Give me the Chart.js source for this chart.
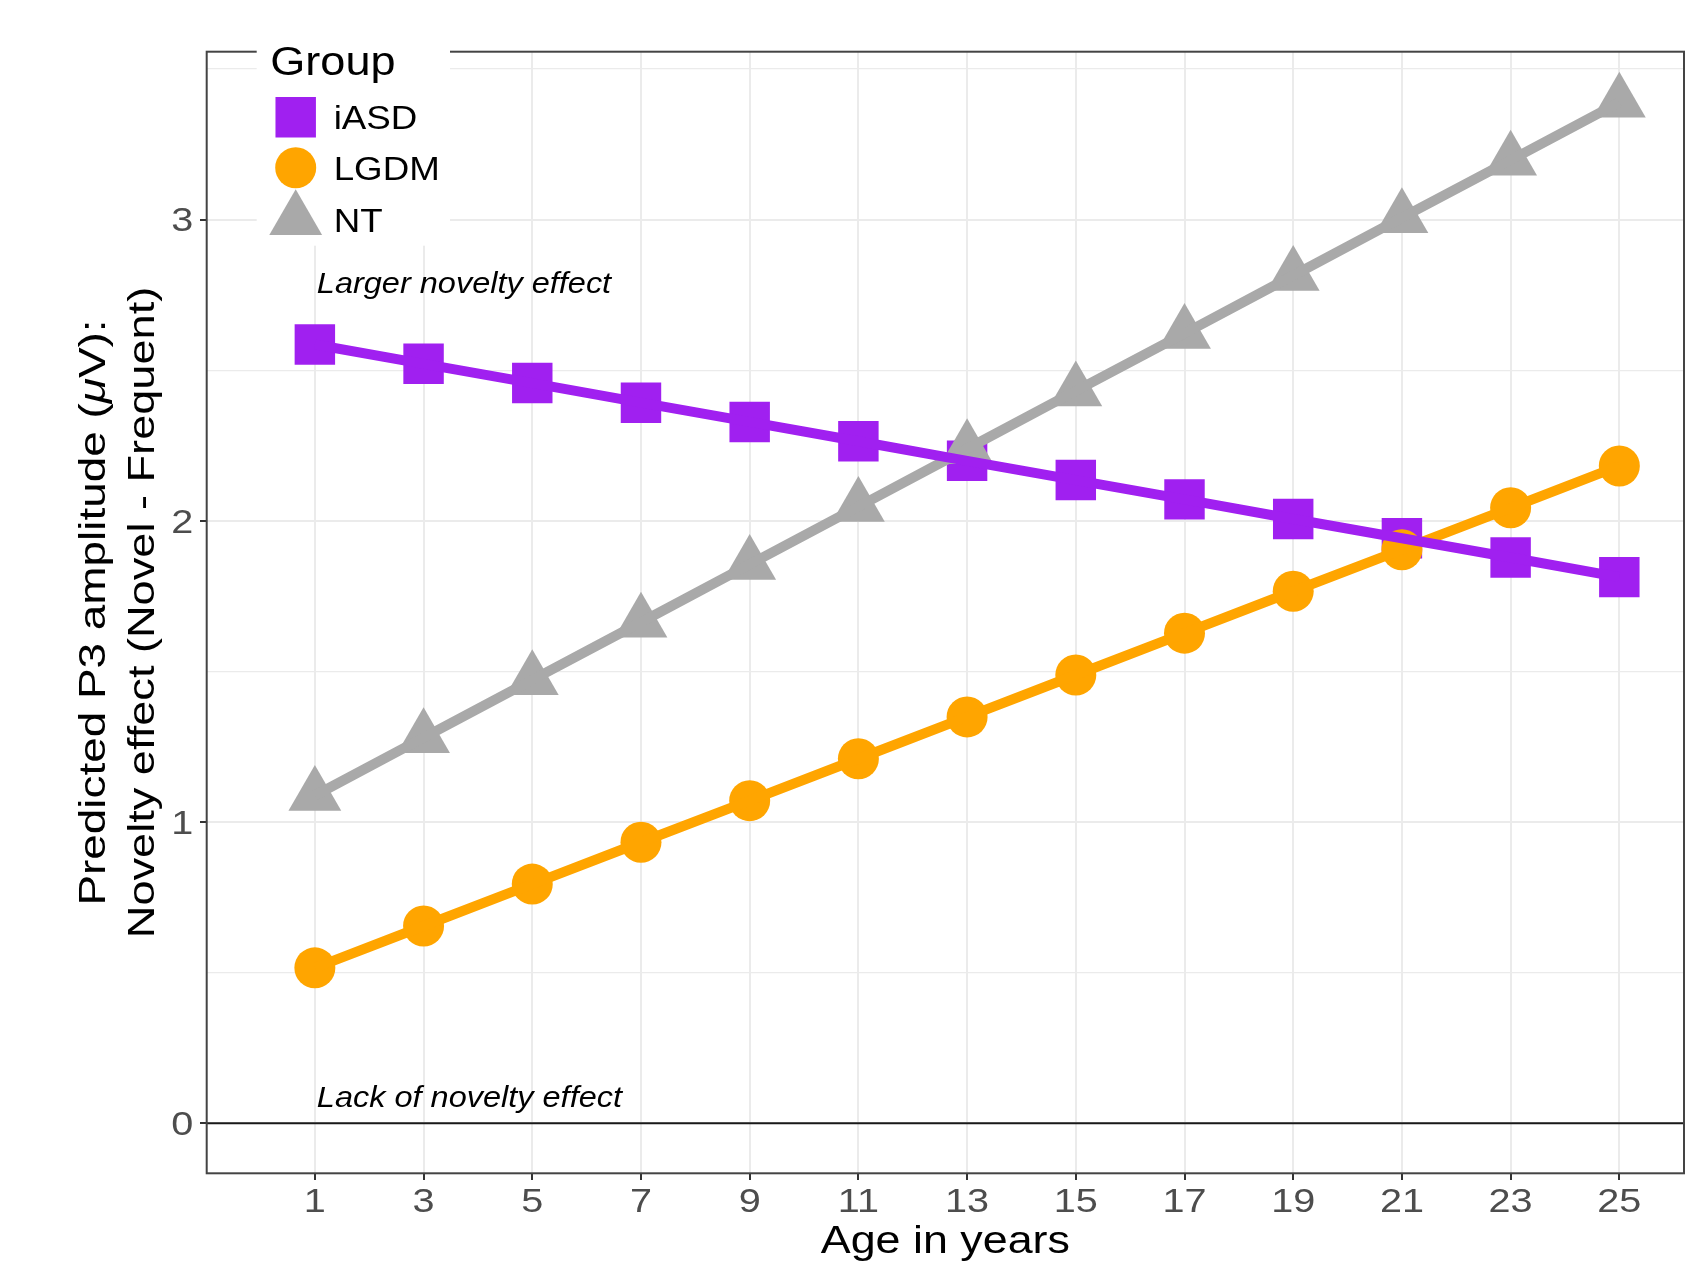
<!DOCTYPE html>
<html><head><meta charset="utf-8">
<script src="https://cdn.jsdelivr.net/npm/chart.js@4.4.1/dist/chart.umd.min.js"></script>
<style>html,body{margin:0;padding:0;background:#fff}canvas{display:block}</style>
</head><body>
<canvas id="c" width="1695" height="1263" style="width:1695px;height:1263px"></canvas>
<script>
// ---- data ----
const ages = [1, 3, 5, 7, 9, 11, 13, 15, 17, 19, 21, 23, 25];
const groups = ['iASD', 'LGDM', 'NT'];
const iASD = [2.585, 2.521, 2.457, 2.392, 2.328, 2.264, 2.199, 2.135, 2.071, 2.006, 1.942, 1.878, 1.813];
const LGDM = [0.516, 0.655, 0.794, 0.933, 1.071, 1.210, 1.349, 1.488, 1.627, 1.766, 1.904, 2.043, 2.182];
const NT   = [1.088, 1.280, 1.472, 1.663, 1.855, 2.047, 2.239, 2.431, 2.622, 2.814, 3.006, 3.197, 3.389];
const xTicks = [1, 3, 5, 7, 9, 11, 13, 15, 17, 19, 21, 23, 25];
const yTicks = [0, 1, 2, 3];
const yMinorTicks = [0.5, 1.5, 2.5, 3.5];
const annotations = ['Larger novelty effect', 'Lack of novelty effect'];
const annotationX = [1, 1];
const annotationY = [2.8, 0.1];
const xTitle = 'Age in years';
const yTitleLine1 = [['Predicted P3 amplitude (', false], ['\u03BC', true], ['V):', false]];
const yTitleLine2 = 'Novelty effect (Novel - Frequent)';
const legendTitle = 'Group';

// ---- styles ----
const FONT = '"Liberation Sans", Arial, Helvetica, sans-serif';
const colors = ['#A020F0', '#FFA500', '#A9A9A9'];
const shapes = ['rect', 'circle', 'triangle'];
const radii = [28.6, 20.5, 30.5];
const seriesValues = [iASD, LGDM, NT];

const pts = v => ages.map((a, i) => ({x: a, y: v[i]}));

const datasets = [];
groups.forEach((g, i) => {
  datasets.push({
    label: g + ' line', data: pts(seriesValues[i]),
    borderColor: colors[i], borderWidth: 10, pointRadius: 0, pointHoverRadius: 0,
    fill: false, tension: 0, order: 1 + i, borderJoinStyle: 'round'
  });
});
groups.forEach((g, i) => {
  datasets.push({
    label: g, data: pts(seriesValues[i]), showLine: false,
    pointStyle: shapes[i], pointRadius: radii[i], pointHoverRadius: radii[i],
    pointBackgroundColor: colors[i], pointBorderWidth: 0, pointBorderColor: colors[i],
    order: 12 - i
  });
});

function drawShape(ctx, shape, r, x, y, color) {
  ctx.save();
  ctx.fillStyle = color;
  ctx.beginPath();
  if (shape === 'rect') {
    const s = Math.SQRT1_2 * r;
    ctx.rect(x - s, y - s, 2 * s, 2 * s);
  } else if (shape === 'circle') {
    ctx.arc(x, y, r, 0, Math.PI * 2);
  } else {
    let rad = 0; const T = Math.PI * 2 / 3;
    ctx.moveTo(x + Math.sin(rad) * r, y - Math.cos(rad) * r); rad += T;
    ctx.lineTo(x + Math.sin(rad) * r, y - Math.cos(rad) * r); rad += T;
    ctx.lineTo(x + Math.sin(rad) * r, y - Math.cos(rad) * r);
    ctx.closePath();
  }
  ctx.fill();
  ctx.restore();
}

// text drawn with a horizontal stretch to match the wide face of the original
function text(ctx, t, x, y, font, align, sx, color) {
  ctx.save();
  ctx.translate(x, y);
  ctx.scale(sx, 1);
  ctx.font = font; ctx.fillStyle = color || '#000';
  ctx.textAlign = align; ctx.textBaseline = 'alphabetic';
  ctx.fillText(t, 0, 0);
  ctx.restore();
}

const isMajorY = v => yTicks.some(t => Math.abs(t - v) < 1e-9);

const deco = {
  id: 'deco',
  beforeDatasetsDraw(chart) {
    const ctx = chart.ctx, xs = chart.scales.x, ys = chart.scales.y, a = chart.chartArea;
    ctx.save();
    ctx.strokeStyle = '#1a1a1a'; ctx.lineWidth = 2;
    const py = ys.getPixelForValue(0);
    ctx.beginPath(); ctx.moveTo(a.left, py); ctx.lineTo(a.right, py); ctx.stroke();
    ctx.restore();
    annotations.forEach((t, i) =>
      text(ctx, t, xs.getPixelForValue(annotationX[i]) + 2, ys.getPixelForValue(annotationY[i]) + 13.5,
           'italic 29px ' + FONT, 'left', 1.12));
  },
  afterDatasetsDraw(chart) {
    const ctx = chart.ctx, a = chart.chartArea;
    ctx.save();
    ctx.strokeStyle = '#444'; ctx.lineWidth = 2;
    ctx.strokeRect(a.left, a.top, a.right - a.left, a.bottom - a.top);
    const lx = a.left + 50, ly = a.top - 32;
    ctx.fillStyle = '#fff';
    ctx.fillRect(lx, ly, 193.3, 226);
    ctx.restore();
    text(ctx, legendTitle, lx + 13.5, a.top + 23.3, '41px ' + FONT, 'left', 1.1);
    const rowY = [a.top + 65.5, a.top + 116, a.top + 168];
    groups.forEach((g, i) => {
      drawShape(ctx, shapes[i], radii[i], lx + 39, rowY[i], colors[i]);
      text(ctx, g, lx + 77, rowY[i] + 12, '34px ' + FONT, 'left', 1.08);
    });
  },
  afterDraw(chart) {
    const ctx = chart.ctx, a = chart.chartArea, xs = chart.scales.x, ys = chart.scales.y;
    const tickFont = '33px ' + FONT;
    xTicks.forEach(v => text(ctx, String(v), xs.getPixelForValue(v), a.bottom + 38.3, tickFont, 'center', 1.2, '#4D4D4D'));
    yTicks.forEach(v => text(ctx, String(v), a.left - 13.4, ys.getPixelForValue(v) + 11.8, tickFont, 'right', 1.2, '#4D4D4D'));

    text(ctx, xTitle, (a.left + a.right) / 2, a.bottom + 80, '38px ' + FONT, 'center', 1.18);

    const cy = (a.top + a.bottom) / 2;
    ctx.save();
    ctx.translate(a.left - 102, cy);
    ctx.rotate(-Math.PI / 2);
    ctx.scale(1.24, 1);
    ctx.fillStyle = '#000'; ctx.textBaseline = 'alphabetic'; ctx.textAlign = 'left';
    let total = 0;
    yTitleLine1.forEach(([t, it]) => { ctx.font = (it ? 'italic ' : '') + '37px ' + FONT; total += ctx.measureText(t).width; });
    let x0 = -total / 2;
    yTitleLine1.forEach(([t, it]) => { ctx.font = (it ? 'italic ' : '') + '37px ' + FONT; ctx.fillText(t, x0, 0); x0 += ctx.measureText(t).width; });
    ctx.restore();
    ctx.save();
    ctx.translate(a.left - 53, cy);
    ctx.rotate(-Math.PI / 2);
    ctx.scale(1.22, 1);
    ctx.fillStyle = '#000'; ctx.textBaseline = 'alphabetic';
    ctx.font = '37px ' + FONT; ctx.textAlign = 'center';
    ctx.fillText(yTitleLine2, 0, 0);
    ctx.restore();
  }
};

new Chart(document.getElementById('c'), {
  type: 'line',
  data: {datasets},
  plugins: [deco],
  options: {
    responsive: false, animation: false, devicePixelRatio: 1,
    layout: {autoPadding: false, padding: {left: 0, top: 51.7, right: 11, bottom: 0}},
    plugins: {legend: {display: false}, tooltip: {enabled: false}},
    events: [],
    scales: {
      x: {
        type: 'linear', min: -0.99, max: 26.19,
        afterBuildTicks: s => { s.ticks = xTicks.map(v => ({value: v})); },
        afterFit: s => { s.height = 89.7; s.paddingLeft = 0; s.paddingRight = 0; },
        grid: {color: '#EBEBEB', lineWidth: 2, drawTicks: true, tickLength: 6.7, tickColor: '#333', tickWidth: 2},
        border: {display: false},
        ticks: {display: false, autoSkip: false, maxRotation: 0}
      },
      y: {
        type: 'linear', min: -0.166, max: 3.557,
        afterBuildTicks: s => { s.ticks = yTicks.concat(yMinorTicks).sort((p, q) => p - q).map(v => ({value: v})); },
        afterFit: s => { s.width = 206.7; s.paddingTop = 0; s.paddingBottom = 0; },
        grid: {
          color: '#EBEBEB',
          lineWidth: c => (c.tick && isMajorY(c.tick.value)) ? 2 : 1.2,
          drawTicks: true, tickLength: 6.7,
          tickColor: c => (c.tick && isMajorY(c.tick.value)) ? '#333' : 'rgba(0,0,0,0)',
          tickWidth: 2
        },
        border: {display: false},
        ticks: {display: false, autoSkip: false}
      }
    }
  }
});
</script>
</body></html>
